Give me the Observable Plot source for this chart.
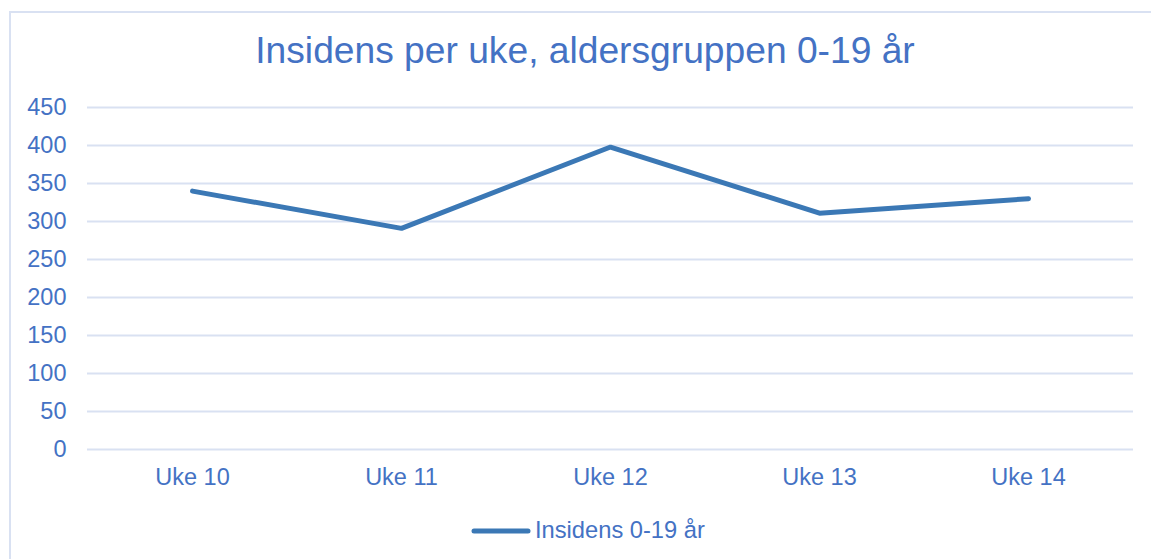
<!DOCTYPE html>
<html>
<head>
<meta charset="utf-8">
<script src="https://cdn.jsdelivr.net/npm/d3@7"></script>
<script src="https://cdn.jsdelivr.net/npm/@observablehq/plot@0.6"></script>
<style>
  html, body { margin: 0; padding: 0; background: #fff; }
  body { font-family: "Liberation Sans", Arial, sans-serif; }
  #wrap { position: relative; width: 1151px; height: 559px; overflow: hidden; }
  #frame { position: absolute; left: 9px; top: 11px; width: 1160px; height: 600px; border: 2px solid #d9e1f2; box-sizing: border-box; }
  #title { position: absolute; left: 0; width: 1170px; top: 29px; text-align: center; font-size: 37.2px; color: #4472c4; white-space: nowrap; }
  #chart { position: absolute; left: 0; top: 0; }
  #legend { position: absolute; left: 471px; top: 517px; display: flex; align-items: center; font-size: 23.7px; color: #4472c4; white-space: nowrap; }
  #legend svg { display: block; margin-right: 4px; }
</style>
</head>
<body>
<div id="wrap">
  <div id="frame"></div>
  <div id="title"></div>
  <div id="chart"></div>
  <div id="legend"></div>
</div>
<script>
const titleText = "Insidens per uke, aldersgruppen 0-19 år";
const seriesName = "Insidens 0-19 år";
const weeks = ["Uke 10", "Uke 11", "Uke 12", "Uke 13", "Uke 14"];
const values = [340, 291, 398, 311, 330];
const yTicks = [0, 50, 100, 150, 200, 250, 300, 350, 400, 450];

const textColor = "#4472c4";
const lineColor = "#3b78b5";
const gridColor = "#d9e1f2";

const data = weeks.map((w, i) => ({week: w, value: values[i]}));

document.getElementById("title").textContent = titleText;

const plot = Plot.plot({
  width: 1151,
  height: 500,
  marginLeft: 87,
  marginRight: 18,
  marginTop: 107,
  marginBottom: 51,
  style: {fontFamily: '"Liberation Sans", Arial, sans-serif', fontSize: "23.5px", color: textColor, background: "transparent", overflow: "visible"},
  x: {type: "point", domain: weeks, padding: 0.5, label: null},
  y: {domain: [0, 450], label: null},
  marks: [
    Plot.ruleY(yTicks, {stroke: gridColor, strokeWidth: 2}),
    Plot.axisY({ticks: yTicks, tickSize: 0, tickPadding: 21, label: null, fill: textColor, fontSize: 23.5}),
    Plot.axisX({tickSize: 0, tickPadding: 19, label: null, fill: textColor, fontSize: 23.5}),
    Plot.line(data, {x: "week", y: "value", stroke: lineColor, strokeWidth: 5, strokeLinecap: "round", strokeLinejoin: "miter"})
  ]
});
document.getElementById("chart").appendChild(plot);

const legend = document.getElementById("legend");
legend.innerHTML = `<svg width="60" height="10"><line x1="3" y1="5" x2="57" y2="5" stroke="${lineColor}" stroke-width="5" stroke-linecap="round"/></svg><span></span>`;
legend.querySelector("span").textContent = seriesName;
</script>
</body>
</html>
